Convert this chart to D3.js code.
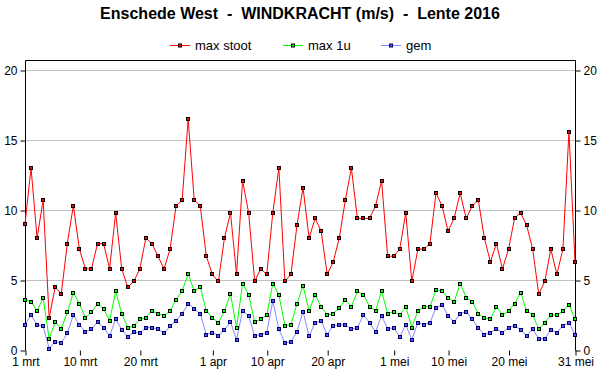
<!DOCTYPE html>
<html>
<head>
<meta charset="utf-8">
<script src="https://cdn.jsdelivr.net/npm/d3@7"></script>
<style>
  body { margin: 0; background: #fff; }
  text { font-family: 'Liberation Sans', Arial, sans-serif; }
</style>
</head>
<body>
<div id="chart"></div>
<script>
// dagwaarden 1 mrt t/m 31 mei 2016 (m/s)
const maxStoot = [
  9.0, 13.0, 8.0, 10.7, 2.3, 4.5, 4.0, 7.6, 10.3, 7.2,
  5.8, 5.8, 7.6, 7.6, 5.8, 9.8, 5.8, 4.5, 4.9, 5.8,
  8.0, 7.6, 6.7, 5.8, 7.2, 10.3, 10.7, 16.5, 10.7, 10.3,
  6.7, 5.4, 4.9, 8.0, 9.8, 5.4, 12.1, 9.8, 4.9, 5.8,
  5.4, 9.8, 13.0, 4.9, 5.4, 8.9, 11.6, 8.0, 9.4, 8.5,
  5.4, 6.3, 8.0, 10.7, 13.0, 9.4, 9.4, 9.4, 10.3, 12.1,
  6.7, 6.7, 7.2, 9.8, 4.9, 7.2, 7.2, 7.6, 11.2, 10.3,
  8.5, 9.4, 11.2, 9.4, 10.3, 10.7, 8.0, 6.3, 7.6, 5.8,
  7.2, 9.4, 9.8, 8.9, 7.2, 4.0, 4.9, 7.2, 5.4, 7.2,
  15.6, 6.3
]
const max1u = [
  3.6, 3.45, 2.8, 3.7, 0.8, 2.0, 1.5, 2.7, 4.1, 3.3,
  2.3, 2.7, 3.3, 2.95, 2.1, 4.2, 2.6, 1.6, 1.7, 2.2,
  2.3, 2.8, 2.6, 2.45, 2.8, 3.6, 4.2, 5.45, 4.2, 4.5,
  2.8, 2.3, 1.95, 2.8, 4.0, 1.6, 4.75, 3.95, 2.0, 2.2,
  2.5, 4.75, 3.95, 1.75, 1.8, 3.3, 4.6, 2.8, 3.95, 3.1,
  2.5, 2.6, 3.0, 3.6, 3.1, 4.2, 3.95, 3.1, 2.8, 4.2,
  2.6, 2.75, 2.5, 3.1, 1.6, 2.8, 3.1, 3.1, 4.3, 4.2,
  3.75, 3.45, 4.75, 3.75, 3.45, 2.6, 2.3, 2.2, 3.1, 2.5,
  2.8, 3.3, 4.1, 2.8, 2.5, 1.5, 1.95, 2.5, 2.5, 2.8,
  3.25, 2.2
]
const gem = [
  1.8, 2.5, 1.8, 1.7, 0.1, 0.6, 0.5, 1.2, 2.5, 1.8,
  1.3, 1.5, 2.0, 1.6, 1.0, 2.2, 1.45, 0.95, 1.3, 1.2,
  1.6, 1.6, 1.5, 1.2, 1.7, 2.1, 2.6, 3.3, 2.95, 2.6,
  1.1, 1.25, 1.0, 1.45, 2.0, 0.75, 2.8, 2.45, 1.0, 1.1,
  1.25, 3.5, 1.5, 0.5, 0.6, 1.3, 2.75, 1.0, 1.95, 2.1,
  1.1, 1.75, 1.8, 1.8, 1.5, 1.6, 2.5, 1.95, 1.3, 2.45,
  1.5, 1.6, 0.95, 1.8, 0.75, 1.95, 1.8, 1.95, 3.0, 3.25,
  2.45, 2.0, 2.6, 2.75, 2.2, 1.6, 1.1, 1.25, 1.5, 1.25,
  1.6, 1.75, 1.45, 1.0, 1.5, 0.8, 0.8, 1.45, 1.25, 1.75,
  1.95, 1.1
]
const tickDays = [0, 9, 19, 31, 40, 50, 61, 70, 80, 91]
const tickLabels = ['1 mrt', '10 mrt', '20 mrt', '1 apr', '10 apr', '20 apr', '1 mei', '10 mei', '20 mei', '31 mei']
const yTicks = [0, 5, 10, 15, 20]

const series = [
  { name: 'max stoot', values: maxStoot, line: '#ff0000', fill: '#ff0000', stroke: '#000000' },
  { name: 'max 1u', values: max1u, line: '#00ff00', fill: '#00ff00', stroke: '#000000' },
  { name: 'gem', values: gem, line: '#8888ff', fill: '#5555ff', stroke: '#000066' }
]

const width = 600
const height = 390
const plotLeft = 25, plotRight = 575, plotTop = 60, plotBottom = 350

const svg = d3.select('#chart')
  .append('svg')
  .attr('width', width)
  .attr('height', height)

const x = d3.scaleLinear().domain([0, 91]).range([plotLeft, plotRight])
const y = d3.scaleLinear().domain([0, 20]).range([plotBottom, plotBottom - 280])

// titel
svg.append('text')
  .attr('x', 300)
  .attr('y', 19)
  .attr('text-anchor', 'middle')
  .attr('style', 'font-weight: bold; font-size: 16px; fill: #000; white-space: pre')
  .text('Enschede West  -  WINDKRACHT (m/s)  -  Lente 2016')

// legenda
const legendX = [170, 283, 381]
series.forEach((s, i) => {
  const g = svg.append('g').attr('transform', `translate(${legendX[i]},45.5)`)
  g.append('line')
    .attr('x1', 0).attr('x2', 20).attr('y1', 0).attr('y2', 0)
    .attr('stroke', s.line).attr('stroke-width', 1)
  g.append('rect')
    .attr('x', 8.5).attr('y', -1.5).attr('width', 3).attr('height', 3)
    .attr('fill', s.fill).attr('stroke', s.stroke).attr('stroke-width', 1)
  g.append('text')
    .attr('x', 25).attr('y', 4.5)
    .attr('style', 'font-size: 13px; fill: #000')
    .text(s.name)
})

// rasterlijnen
svg.append('g')
  .selectAll('line')
  .data(yTicks.filter(d => d > 0))
  .join('line')
  .attr('x1', plotLeft).attr('x2', plotRight)
  .attr('y1', d => Math.round(y(d)) + 0.5)
  .attr('y2', d => Math.round(y(d)) + 0.5)
  .attr('stroke', '#c0c0c0')

// kader
svg.append('path')
  .attr('d', `M${plotLeft + 0.5},${plotBottom + 0.5}V${plotTop + 0.5}H${plotRight + 0.5}V${plotBottom + 0.5}`)
  .attr('fill', 'none')
  .attr('stroke', '#000')

// assen
const yLeft = svg.append('g')
  .attr('transform', `translate(${plotLeft + 0.5},0.5)`)
  .call(d3.axisLeft(y).tickValues(yTicks).tickSize(5).tickPadding(3))
const yRight = svg.append('g')
  .attr('transform', `translate(${plotRight + 0.5},0.5)`)
  .call(d3.axisRight(y).tickValues(yTicks).tickSize(5).tickPadding(3))
const xAxis = svg.append('g')
  .attr('transform', `translate(0.5,${plotBottom + 0.5})`)
  .call(d3.axisBottom(x).tickValues(tickDays).tickFormat((d, i) => tickLabels[i]).tickSize(5).tickPadding(2))

;[yLeft, yRight, xAxis].forEach(a => {
  a.select('.domain').remove()
  a.selectAll('text').attr('style', 'font-size: 12px; fill: #000; font-family: Liberation Sans, Arial, sans-serif')
  a.selectAll('line').attr('stroke', '#000')
})

// lijnen en markers, gem eerst onderop
series.slice().reverse().forEach(s => {
  const line = d3.line()
    .x((d, i) => x(i))
    .y(d => y(d))
  svg.append('path')
    .datum(s.values)
    .attr('d', line)
    .attr('fill', 'none')
    .attr('stroke', s.line)
    .attr('stroke-width', 1)
})
series.slice().reverse().forEach(s => {
  svg.append('g')
    .selectAll('rect')
    .data(s.values)
    .join('rect')
    .attr('x', (d, i) => Math.round(x(i)) - 1.5)
    .attr('y', d => Math.round(y(d)) - 1.5)
    .attr('width', 3)
    .attr('height', 3)
    .attr('fill', s.fill)
    .attr('stroke', s.stroke)
    .attr('stroke-width', 1)
})
</script>
</body>
</html>
